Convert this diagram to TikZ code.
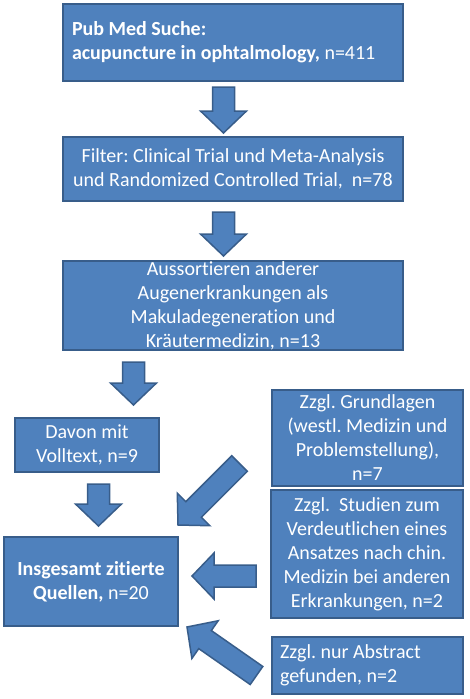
\documentclass[tikz,border=0pt]{standalone}
\usepackage{fontspec}
\setmainfont{Carlito}[Ligatures=NoCommon]
\usetikzlibrary{calc}
\definecolor{vboxfill}{HTML}{4F81BD}
\definecolor{vboxline}{HTML}{385D8A}
\tikzset{
  stage/.style={draw=vboxline, fill=vboxfill, line width=1.5pt, text=white, align=center, inner sep=0pt, font=\fontsize{20}{24}\selectfont\frenchspacing},
  blockarrow/.style={draw=vboxline, fill=vboxfill, line width=1.5pt, line join=miter},
}
% block arrow from tail #1 to tip #2
\newcommand{\blockarrow}[2]{%
  \path ($(#2)!22pt!(#1)$) coordinate (bah);
  \draw[blockarrow] ($(#1)!11pt!90:(#2)$) -- ($(bah)!11pt!90:(#2)$) -- ($(bah)!23pt!90:(#2)$) -- (#2) -- ($(bah)!23pt!-90:(#2)$) -- ($(bah)!11pt!-90:(#2)$) -- ($(#1)!11pt!-90:(#2)$) -- cycle;
}

\begin{document}
\begin{tikzpicture}[x=1pt, y=-1pt]
	\useasboundingbox (0,0) rectangle (469,699);
	% left column
	\node[stage, minimum width=340pt, minimum height=77pt, text width=322pt, align=flush left] (pub) at (233,42.5) {\textbf{Pub Med Suche:}\\\textbf{acupuncture in ophtalmology,} n=411};
	\node[stage, minimum width=340pt, minimum height=64pt] (filter) at (233,169) {Filter: Clinical Trial und Meta-Analysis\\und Randomized Controlled Trial, \ n=78};
	\node[stage, minimum width=340pt, minimum height=89pt] (aussort) at (233,305.5) {Aussortieren anderer\\Augenerkrankungen als\\Makuladegeneration und\\Kräutermedizin, n=13};
	\node[stage, minimum width=144pt, minimum height=54pt] (davon) at (87,445) {Davon mit\\Volltext, n=9};
	\node[stage, minimum width=174pt, minimum height=89pt] (insg) at (91,581.5) {\textbf{Insgesamt zitierte}\\\textbf{Quellen,} n=20};
	% right column
	\node[stage, minimum width=191pt, minimum height=96pt] (grund) at (367.5,438) {Zzgl. Grundlagen\\(westl. Medizin und\\Problemstellung),\\n=7};
	\node[stage, minimum width=192pt, minimum height=128pt] (studien) at (367,554) {Zzgl. \ Studien zum\\Verdeutlichen eines\\Ansatzes nach chin.\\Medizin bei anderen\\Erkrankungen, n=2};
	\node[stage, minimum width=191pt, minimum height=57pt, text width=175pt, align=flush left] (abstr) at (367.5,665.5) {Zzgl. nur Abstract\\gefunden, n=2};
	% arrow ends
	\coordinate (a1s) at (223.5,87);
	\coordinate (a1e) at (223.5,133);
	\coordinate (a2s) at (223.5,212);
	\coordinate (a2e) at (223.5,256);
	\coordinate (a3s) at (133.5,362);
	\coordinate (a3e) at (133.5,405);
	\coordinate (a4s) at (98.5,484);
	\coordinate (a4e) at (98.5,526);
	\coordinate (d1s) at (239.5,463.5);
	\coordinate (d1e) at (178,525);
	\coordinate (l1s) at (256,576);
	\coordinate (l1e) at (192,576);
	\coordinate (d2s) at (256.5,675.5);
	\coordinate (d2e) at (187,627);
	\blockarrow{a1s}{a1e}
	\blockarrow{a2s}{a2e}
	\blockarrow{a3s}{a3e}
	\blockarrow{a4s}{a4e}
	\blockarrow{d1s}{d1e}
	\blockarrow{l1s}{l1e}
	\blockarrow{d2s}{d2e}
\end{tikzpicture}
\end{document}
